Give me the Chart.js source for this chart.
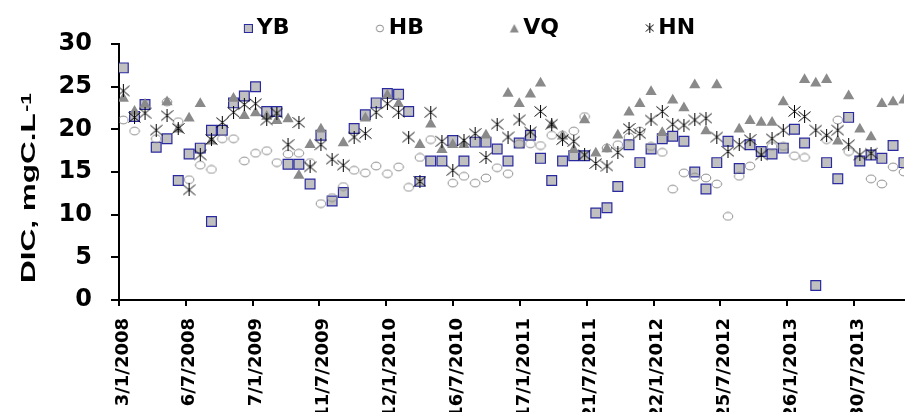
<!DOCTYPE html>
<html>
<head>
<meta charset="utf-8">
<script src="https://cdn.jsdelivr.net/npm/chart.js@4.4.0/dist/chart.umd.min.js"></script>
<style>
  html, body { margin: 0; padding: 0; background: #fff; overflow: hidden; }
  #wrap { width: 912px; height: 412px; position: relative; }
</style>
</head>
<body>
<div id="wrap"><canvas id="dicChart"></canvas></div>
<script>
// sampling dates, roughly monthly (YB has two samples in Sep 2008)
const sampleDates = [
  '2008-01-15', '2008-02-15', '2008-03-15', '2008-04-15', '2008-05-15', '2008-06-15', '2008-07-15', '2008-08-15', '2008-09-15', '2008-09-15', '2008-10-15', '2008-11-15', '2008-12-15',
  '2009-01-15', '2009-02-15', '2009-03-15', '2009-04-15', '2009-05-15', '2009-06-15', '2009-07-15', '2009-08-15', '2009-09-15', '2009-10-15', '2009-11-15', '2009-12-15',
  '2010-01-15', '2010-02-15', '2010-03-15', '2010-04-15', '2010-05-15', '2010-06-15', '2010-07-15', '2010-08-15', '2010-09-15', '2010-10-15', '2010-11-15', '2010-12-15',
  '2011-01-15', '2011-02-15', '2011-03-15', '2011-04-15', '2011-05-15', '2011-06-15', '2011-07-15', '2011-08-15', '2011-09-15', '2011-10-15', '2011-11-15', '2011-12-15',
  '2012-01-15', '2012-02-15', '2012-03-15', '2012-04-15', '2012-05-15', '2012-06-15', '2012-07-15', '2012-08-15', '2012-09-15', '2012-10-15', '2012-11-15', '2012-12-15',
  '2013-01-15', '2013-02-15', '2013-03-15', '2013-04-15', '2013-05-15', '2013-06-15', '2013-07-15', '2013-08-15', '2013-09-15', '2013-10-15', '2013-11-15', '2013-12-15'
];

const ybValues = [
  27.2, 21.5, 22.9, 17.9, 18.9, 14.0, 17.1, 17.8, 19.9, 9.2, 19.9, 23.1, 23.9,
  25.0, 22.1, 22.1, 15.9, 15.9, 13.6, 19.3, 11.6, 12.6, 20.1, 21.7, 23.1,
  24.2, 24.1, 22.1, 13.9, 16.3, 16.3, 18.7, 16.3, 18.5, 18.5, 17.7, 16.3,
  18.4, 19.3, 16.6, 14.0, 16.3, 16.9, 16.9, 10.2, 10.8, 13.3, 18.2, 16.1,
  17.7, 18.9, 19.2, 18.6, 15.0, 13.0, 16.1, 18.6, 15.4, 18.2, 17.4, 17.1,
  17.8, 20.0, 18.4, 1.7, 16.1, 14.2, 21.4, 16.3, 17.0, 16.6, 18.1, 16.1
];
const hbValues = [
  21.1, 19.8, null, 18.9, 23.2, 20.9, 14.1, 15.8, 15.3, null, 18.9, 18.9, 16.3,
  17.2, 17.5, 16.1, 17.1, 17.2, 16.1, 11.3, 12.0, 13.3, 15.2, 14.9, 15.7,
  14.8, 15.6, 13.2, 16.7, 18.8, null, 13.7, 14.5, 13.7, 14.3, 15.5, 14.8,
  18.3, 18.3, 18.1, 19.3, 19.3, 19.8, 21.5, null, 17.8, 18.2, 19.1, 19.8,
  18.0, 17.3, 13.0, 14.9, 14.4, 14.3, 13.6, 9.8, 14.5, 15.7, null, 18.0,
  18.0, 16.9, 16.7, null, 18.8, 21.1, 17.4, null, 14.2, 13.6, 15.6, 15.0
];
const vqValues = [
  23.6, 22.1, 22.9, null, 23.2, 20.0, 21.3, 23.0, 18.6, null, null, 23.6, 21.6,
  21.9, 21.5, 21.0, 21.2, 14.6, 18.2, 20.0, null, 18.4, null, 21.3, null,
  24.0, 23.0, null, 18.2, 20.6, 17.6, 18.2, 18.2, null, 19.3, null, 24.2,
  23.0, 24.1, 25.4, 20.5, 19.2, 17.6, 21.1, 17.2, 17.7, 19.3, 22.0, 23.0,
  24.4, 19.6, 23.4, 22.5, 25.2, 19.8, 25.2, null, 20.0, 21.0, 20.8, 20.8,
  23.2, null, 25.8, 25.4, 25.8, 18.6, 23.9, 20.0, 19.1, 23.0, 23.2, 23.4
];
const hnValues = [
  24.5, 21.4, 21.9, 19.9, 21.6, 20.1, 12.9, 17.0, 18.8, null, 20.8, 22.0, 22.9,
  23.0, 21.1, 21.9, 18.2, 20.8, 15.6, 18.2, 16.5, 15.8, 19.1, 19.5, 22.0,
  23.0, 22.0, 19.1, 13.9, 22.0, 18.6, 15.2, 18.7, 19.5, 16.7, 20.6, 19.1,
  21.1, 19.7, 22.1, 20.6, 18.8, 18.6, 17.0, 16.0, 15.7, 17.3, 20.1, 19.5,
  21.1, 22.1, 20.6, 20.5, 21.1, 21.3, 19.1, 17.4, 18.2, 18.8, 17.0, 18.9,
  19.9, 22.1, 21.5, 19.9, 19.3, 19.9, 18.2, 17.0, 17.2, null, null, null
];

const seriesNames = ['YB', 'HB', 'VQ', 'HN'];
const tickLabels = ['3/1/2008', '6/7/2008', '7/1/2009', '11/7/2009', '12/1/2010', '16/7/2010',
  '17/1/2011', '21/7/2011', '22/1/2012', '25/7/2012', '26/1/2013', '30/7/2013'];
const axisStart = '3/1/2008';
const axisEnd = '15/12/2013';
const yTitle = 'DIC, mgC.L';
const yTitleSup = '-1';

// days since epoch, from d/m/yyyy or yyyy-mm-dd
function dayNumber(str) {
  let d, m, y;
  if (str.includes('/')) [d, m, y] = str.split('/').map(Number);
  else [y, m, d] = str.split('-').map(Number);
  return Date.UTC(y, m - 1, d) / 86400000;
}
const day0 = dayNumber(axisStart);
const toX = s => dayNumber(s) - day0;

function points(values) {
  return sampleDates
    .map((d, i) => ({ x: toX(d), y: values[i] }))
    .filter(p => p.y !== null);
}

// small canvases used as marker shapes
function makeIcon(w, h, paint) {
  const c = document.createElement('canvas');
  c.width = w;
  c.height = h;
  paint(c.getContext('2d'));
  return c;
}

const starIcon = makeIcon(13, 13, ctx => {
  ctx.strokeStyle = '#000';
  ctx.lineWidth = 1;
  ctx.beginPath();
  ctx.moveTo(6.5, 0); ctx.lineTo(6.5, 13);
  ctx.moveTo(0.5, 1.5); ctx.lineTo(12.5, 11.5);
  ctx.moveTo(12.5, 1.5); ctx.lineTo(0.5, 11.5);
  ctx.stroke();
});
const ringIcon = makeIcon(12, 10, ctx => {
  ctx.strokeStyle = '#8c8c8c';
  ctx.lineWidth = 1;
  ctx.beginPath();
  ctx.ellipse(6, 5, 4.8, 3.9, 0, 0, Math.PI * 2);
  ctx.stroke();
});

// legend icons: drawn on the right of a wider canvas so they sit close to the text
const legendIcons = [
  makeIcon(24, 12, ctx => {
    ctx.fillStyle = '#c0c0c0';
    ctx.strokeStyle = '#2a2aa0';
    ctx.lineWidth = 1;
    ctx.fillRect(15.5, 2.5, 8, 8);
    ctx.strokeRect(15.5, 2.5, 8, 8);
  }),
  makeIcon(24, 12, ctx => {
    ctx.strokeStyle = '#8c8c8c';
    ctx.lineWidth = 1;
    ctx.beginPath();
    ctx.ellipse(19, 6.5, 3.6, 3.4, 0, 0, Math.PI * 2);
    ctx.stroke();
  }),
  makeIcon(24, 12, ctx => {
    ctx.fillStyle = '#8a8a8a';
    ctx.beginPath();
    ctx.moveTo(19, 2); ctx.lineTo(23.5, 10.5); ctx.lineTo(14.5, 10.5);
    ctx.closePath();
    ctx.fill();
  }),
  makeIcon(24, 12, ctx => {
    ctx.strokeStyle = '#000';
    ctx.lineWidth = 1;
    ctx.beginPath();
    ctx.moveTo(19.5, 1); ctx.lineTo(19.5, 11);
    ctx.moveTo(15.5, 2.5); ctx.lineTo(23.5, 9.5);
    ctx.moveTo(23.5, 2.5); ctx.lineTo(15.5, 9.5);
    ctx.stroke();
  })
];
// trailing spaces spread the legend entries out
const legendGap = ['        ', '        ', '        ', '            '];

const yTitlePlugin = {
  id: 'yTitle',
  afterDraw(chart) {
    const { ctx, chartArea } = chart;
    ctx.save();
    ctx.fillStyle = '#000';
    ctx.translate(35, chartArea.bottom - 17);
    ctx.rotate(-Math.PI / 2);
    ctx.scale(1.5, 1);
    ctx.textBaseline = 'alphabetic';
    ctx.font = 'bold 21px "Liberation Sans", Arial, sans-serif';
    ctx.fillText(yTitle, 0, 0);
    const w = ctx.measureText(yTitle).width;
    ctx.font = 'bold 14px "Liberation Sans", Arial, sans-serif';
    ctx.fillText(yTitleSup, w + 1, -4);
    ctx.restore();
  }
};

const tickFont = { family: 'DejaVu Sans', weight: 'bold' };

new Chart(document.getElementById('dicChart'), {
  type: 'scatter',
  data: {
    datasets: [
      {
        label: seriesNames[0], data: points(ybValues), order: 4,
        pointStyle: 'rect', pointRadius: 6.9,
        pointBackgroundColor: '#c0c0c0', pointBorderColor: '#2a2aa0', pointBorderWidth: 1.2,
        backgroundColor: '#c0c0c0', borderColor: '#2a2aa0'
      },
      {
        label: seriesNames[1], data: points(hbValues), order: 3,
        pointStyle: ringIcon, pointRadius: 5,
        backgroundColor: 'transparent', borderColor: '#8c8c8c'
      },
      {
        label: seriesNames[2], data: points(vqValues), order: 2,
        pointStyle: 'triangle', pointRadius: 6.5,
        pointBackgroundColor: '#8a8a8a', pointBorderColor: '#8a8a8a', pointBorderWidth: 0,
        backgroundColor: '#8a8a8a', borderColor: '#8a8a8a'
      },
      {
        label: seriesNames[3], data: points(hnValues), order: 1,
        pointStyle: starIcon, pointRadius: 6,
        backgroundColor: '#000', borderColor: '#000'
      }
    ]
  },
  options: {
    responsive: true,
    maintainAspectRatio: false,
    animation: false,
    events: [],
    layout: { padding: { top: 0, right: 0, bottom: 0, left: 0 } },
    plugins: {
      tooltip: { enabled: false },
      legend: {
        position: 'top',
        fullSize: false,
        maxHeight: 44,
        labels: {
          usePointStyle: true,
          boxWidth: 10,
          boxHeight: 10,
          padding: 17,
          color: '#000',
          font: { family: 'DejaVu Sans', size: 22, weight: 'bold' },
          generateLabels: chart => chart.data.datasets.map((ds, i) => ({
            text: seriesNames[i] + legendGap[i],
            pointStyle: legendIcons[i],
            datasetIndex: i,
            hidden: false,
            lineWidth: 0,
            fillStyle: 'transparent',
            strokeStyle: 'transparent',
            fontColor: '#000'
          }))
        }
      }
    },
    scales: {
      x: {
        type: 'linear',
        min: 0,
        max: toX(axisEnd),
        afterBuildTicks: scale => {
          scale.ticks = tickLabels.map(t => ({ value: toX(t) }));
        },
        afterFit: scale => { scale.height = 112; },
        ticks: {
          autoSkip: false,
          minRotation: 90,
          maxRotation: 90,
          padding: 12,
          labelOffset: 4,
          color: '#000',
          font: { ...tickFont, size: 18 },
          callback: (v, i) => tickLabels[i]
        },
        grid: { drawOnChartArea: false, drawTicks: true, tickLength: 6, color: '#000', lineWidth: 2 },
        border: { display: true, color: '#000', width: 2 }
      },
      y: {
        min: 0,
        max: 30,
        afterFit: scale => { scale.width = 119; },
        ticks: {
          stepSize: 5,
          padding: 19,
          color: '#000',
          font: { ...tickFont, size: 24 }
        },
        grid: { drawOnChartArea: false, drawTicks: true, tickLength: 8, color: '#000', lineWidth: 2 },
        border: { display: true, color: '#000', width: 2 }
      }
    }
  },
  plugins: [yTitlePlugin]
});
</script>
</body>
</html>
